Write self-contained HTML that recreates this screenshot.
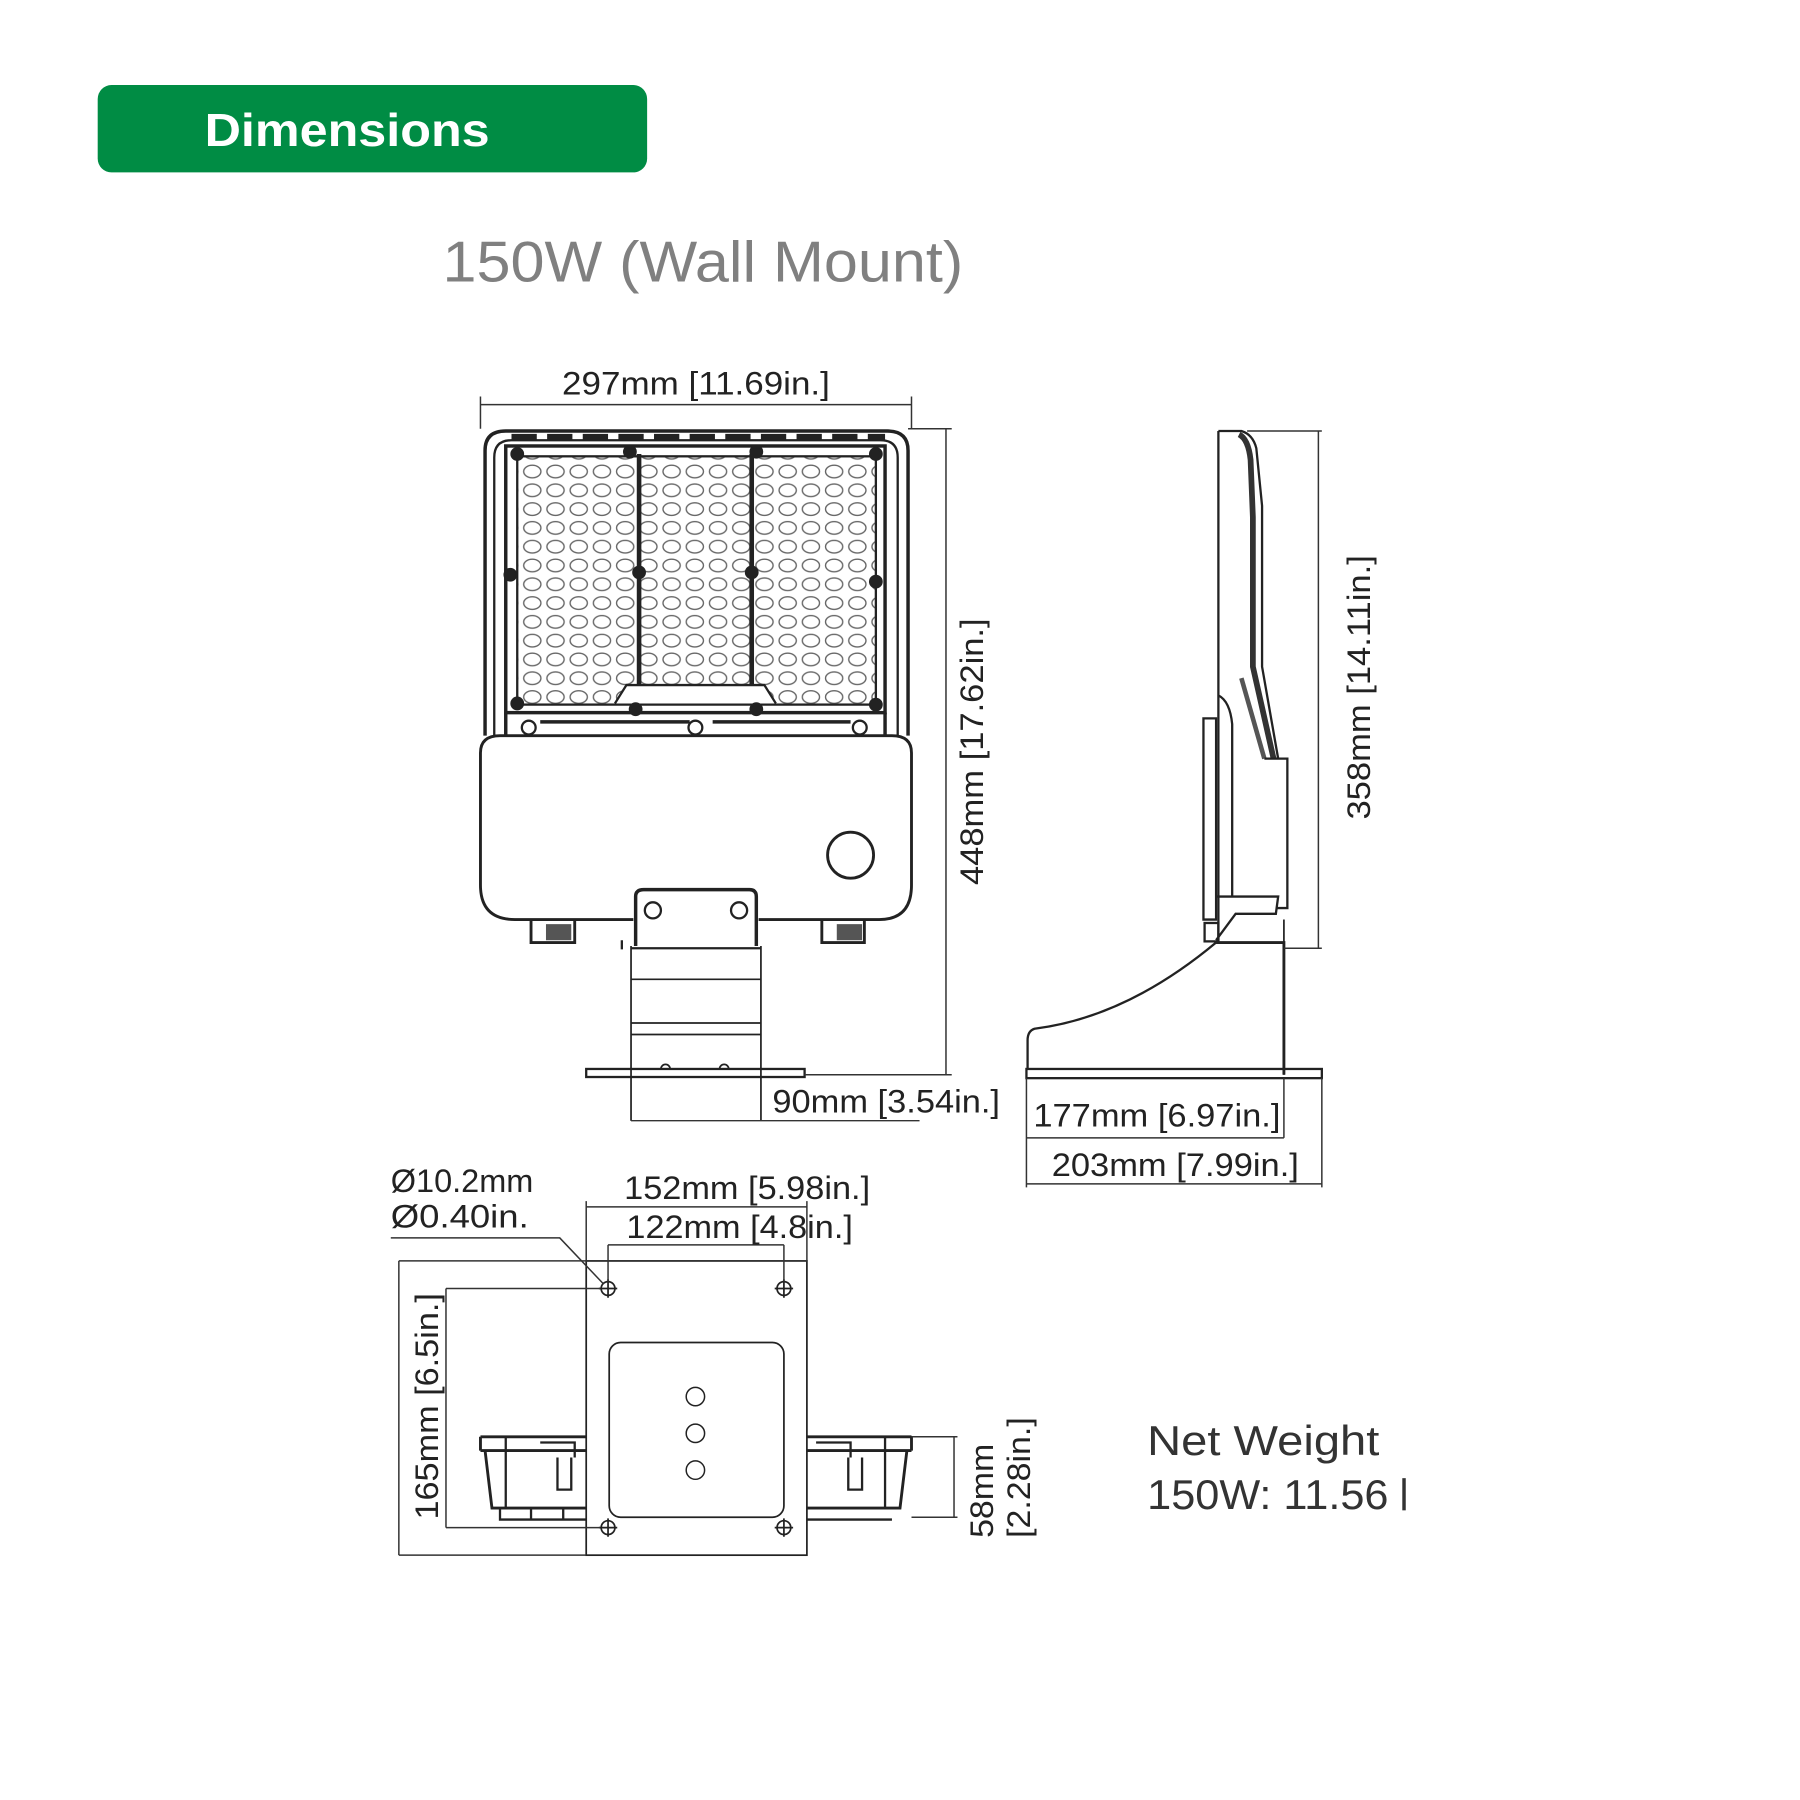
<!DOCTYPE html>
<html><head><meta charset="utf-8"><style>
html,body{margin:0;padding:0;background:#fff;}
svg{display:block;}
text{font-family:"Liberation Sans",sans-serif;}
</style></head><body>
<svg width="1800" height="1800" viewBox="0 0 1566 1566" xmlns="http://www.w3.org/2000/svg">
<defs>
<pattern id="led" x="453" y="402" width="20.2" height="16.35" patternUnits="userSpaceOnUse">
<ellipse cx="10.1" cy="8.2" rx="7.5" ry="5.5" fill="none" stroke="#666" stroke-width="1.2"/>
</pattern>
</defs>
<rect width="1566" height="1566" fill="#fff"/>
<rect x="85" y="74" width="478" height="76" rx="12" fill="#008c44"/>
<text x="178" y="127" font-size="40" font-weight="bold" fill="#fff" textLength="248" lengthAdjust="spacingAndGlyphs">Dimensions</text>
<text x="385" y="245" font-size="50" fill="#808080" textLength="453" lengthAdjust="spacingAndGlyphs">150W (Wall  Mount)</text>

<g fill="none" stroke="#222" stroke-width="2">
<path d="M422 640 V392 Q422 375 440 375 H772 Q790 375 790 392 V640" stroke-width="3"/>
<path d="M430 640 V398 Q430 383 445 383 H766 Q781 383 781 398 V640" stroke-width="2"/>
<rect x="440" y="388" width="330" height="232" stroke-width="3"/>
<rect x="450" y="397" width="312" height="216" fill="url(#led)" stroke-width="2"/>
<line x1="556" y1="395" x2="556" y2="596" stroke-width="4"/>
<line x1="654" y1="395" x2="654" y2="596" stroke-width="4"/>
<circle cx="556" cy="498" r="5" fill="#222"/><circle cx="654" cy="498" r="5" fill="#222"/>
<path d="M535 612 L545 596 H665 L675 612" fill="#fff" stroke-width="2"/>
<line x1="445" y1="380" x2="770" y2="380" stroke-width="5" stroke-dasharray="22,9"/>
<path d="M440 620 V640 M770 620 V640 M470 628 H600 M620 628 H740" stroke-width="3"/>
<circle cx="460" cy="633" r="6"/><circle cx="605" cy="633" r="6"/><circle cx="748" cy="633" r="6"/>
<circle cx="450" cy="395" r="5" fill="#222"/><circle cx="548" cy="393" r="5" fill="#222"/><circle cx="658" cy="393" r="5" fill="#222"/><circle cx="762" cy="395" r="5" fill="#222"/>
<circle cx="444" cy="500" r="5" fill="#222"/><circle cx="762" cy="506" r="5" fill="#222"/>
<circle cx="450" cy="612" r="5" fill="#222"/><circle cx="553" cy="617" r="5" fill="#222"/><circle cx="658" cy="617" r="5" fill="#222"/><circle cx="762" cy="613" r="5" fill="#222"/>
<path d="M551 800 H448 Q418 800 418 770 V655 Q418 640 435 640 H776 Q793 640 793 655 V770 Q793 800 765 800 H660" stroke-width="2.5"/>
<circle cx="740" cy="744" r="20" stroke-width="2.5"/>
<path d="M462 800 V820 H500 V800 M715 800 V820 H752 V800" stroke-width="2.5"/>
<rect x="475" y="804" width="22" height="14" fill="#555" stroke="none"/>
<rect x="728" y="804" width="22" height="14" fill="#555" stroke="none"/>
<path d="M553 823 V780 Q553 774 560 774 H652 Q658 774 658 780 V823" stroke-width="3"/>
<path d="M541 826 V818 M549 825 H662" stroke-width="2"/>
<circle cx="568" cy="792" r="7"/><circle cx="643" cy="792" r="7"/>
<path d="M549 823 V975 M662 823 V975" stroke-width="1.5"/>
<path d="M549 852 H662 M549 890 H662 M549 900 H662" stroke-width="1.5"/>
<rect x="510" y="930" width="190" height="7" stroke-width="2"/>
<path d="M575 930 a4 4 0 0 1 8 0 M626 930 a4 4 0 0 1 8 0" stroke-width="1.5"/>
</g>

<g stroke="#333" stroke-width="1.3" fill="none">
<path d="M418 345 V373 M793 345 V373 M418 352 H793"/>
<path d="M790 373 H828 M700 935 H828 M823 373 V935"/>
<path d="M549 975 H800 M662 940 V975"/>
</g>
<g fill="#222" font-size="28">
<text x="489" y="343" textLength="233" lengthAdjust="spacingAndGlyphs">297mm [11.69in.]</text>
<text transform="translate(855,770) rotate(-90)" textLength="232" lengthAdjust="spacingAndGlyphs">448mm [17.62in.]</text>
<text x="672" y="968" textLength="198" lengthAdjust="spacingAndGlyphs">90mm [3.54in.]</text>
</g>

<g fill="none" stroke="#222" stroke-width="2">
<path d="M1060 375 V820"/>
<path d="M1060 375 H1080 Q1090 378 1093 390 L1098 440 L1098 580 L1112 660"/>
<path d="M1078 378 Q1086 382 1088 400 L1090 450 L1090 580 L1108 660" stroke-width="5" stroke="#333"/>
<path d="M1080 590 L1100 660" stroke-width="4" stroke="#555"/>
<path d="M1060 605 Q1070 610 1072 630 L1072 780"/>
<path d="M1047 625 H1058 V800 H1047 Z"/>
<path d="M1100 660 H1120 V790 H1110"/>
<path d="M1058 780 H1112 L1110 795 H1075 L1058 818"/>
<rect x="1048" y="803" width="12" height="16" stroke-width="2"/>
<path d="M1058 820 H1117 V935" stroke-width="2.5"/>
<path d="M1117 800 V935" stroke-width="1.5"/>
<path d="M1058 820 Q980 885 900 895 Q894 897 894 905 V930" stroke-width="2"/>
<rect x="893" y="930" width="257" height="8" stroke-width="2"/>
</g>
<g stroke="#333" stroke-width="1.3" fill="none">
<path d="M1085 375 H1150 M1117 825 H1150 M1147 375 V825"/>
<path d="M893 938 V1033 M1117 938 V990 M1150 938 V1033 M893 990 H1117 M893 1030 H1150"/>
</g>
<g fill="#222" font-size="28">
<text transform="translate(1192,713) rotate(-90)" textLength="230" lengthAdjust="spacingAndGlyphs">358mm [14.11in.]</text>
<text x="899" y="980" textLength="215" lengthAdjust="spacingAndGlyphs">177mm [6.97in.]</text>
<text x="915" y="1023" textLength="215" lengthAdjust="spacingAndGlyphs">203mm [7.99in.]</text>
</g>

<g fill="none" stroke="#222" stroke-width="2">
<path d="M418 1250 H510 M418 1250 V1262 M422 1262 L428 1312 H510 M418 1262 H510" stroke-width="2.5"/>
<path d="M435 1312 V1322 H510 M462 1312 V1322 M490 1312 V1322 M440 1250 V1312 M470 1255 H500 V1268 M485 1268 V1296 H497 V1268"/>
<path d="M702 1250 H793 M793 1250 V1262 M789 1262 L783 1312 H702 M702 1262 H793" stroke-width="2.5"/>
<path d="M702 1322 H776 M770 1250 V1312 M710 1255 H740 V1268 M738 1268 V1296 H750 V1268"/>
<rect x="510" y="1097" width="192" height="256" fill="#fff" stroke-width="1.5"/>
<rect x="530" y="1168" width="152" height="152" rx="10" stroke-width="1.5"/>
<ellipse cx="605" cy="1215" rx="8" ry="8" stroke-width="1.3"/>
<ellipse cx="605" cy="1247" rx="8" ry="8" stroke-width="1.3"/>
<ellipse cx="605" cy="1279" rx="8" ry="8" stroke-width="1.3"/>
<g stroke-width="1.5">
<circle cx="529" cy="1121" r="6"/><path d="M521 1121 H537 M529 1113 V1129"/>
<circle cx="682" cy="1121" r="6"/><path d="M674 1121 H690 M682 1113 V1129"/>
<circle cx="529" cy="1329" r="6"/><path d="M521 1329 H537 M529 1321 V1337"/>
<circle cx="682" cy="1329" r="6"/><path d="M674 1329 H690 M682 1321 V1337"/>
</g>
</g>
<g stroke="#333" stroke-width="1.3" fill="none">
<path d="M510 1050 H702 M510 1045 V1097 M702 1045 V1097"/>
<path d="M529 1083 H682 M529 1083 V1115 M682 1083 V1115"/>
<path d="M340 1077 H487 L525 1117"/>
<path d="M347 1097 H702 M347 1353 H510 M347 1097 V1353"/>
<path d="M388 1121 H522 M388 1329 H522 M388 1121 V1329"/>
<path d="M793 1250 H833 M793 1320 H833 M830 1250 V1320"/>
</g>
<g fill="#222" font-size="28">
<text x="340" y="1037" textLength="124" lengthAdjust="spacingAndGlyphs">Ø10.2mm</text>
<text x="340" y="1068" textLength="120" lengthAdjust="spacingAndGlyphs">Ø0.40in.</text>
<text x="543" y="1043" textLength="214" lengthAdjust="spacingAndGlyphs">152mm [5.98in.]</text>
<text x="545" y="1077" textLength="197" lengthAdjust="spacingAndGlyphs">122mm [4.8in.]</text>
<text transform="translate(381,1322) rotate(-90)" textLength="197" lengthAdjust="spacingAndGlyphs">165mm [6.5in.]</text>
<text transform="translate(864,1338) rotate(-90)" textLength="82" lengthAdjust="spacingAndGlyphs">58mm</text>
<text transform="translate(896,1338) rotate(-90)" textLength="105" lengthAdjust="spacingAndGlyphs">[2.28in.]</text>
</g>

<g fill="#333" font-size="36">
<text x="998" y="1266" textLength="202" lengthAdjust="spacingAndGlyphs">Net  Weight</text>
<text x="998" y="1313" textLength="210" lengthAdjust="spacingAndGlyphs">150W: 11.56</text>
<rect x="1220" y="1286" width="3" height="28" fill="#333"/>
</g>
</svg>
</body></html>
